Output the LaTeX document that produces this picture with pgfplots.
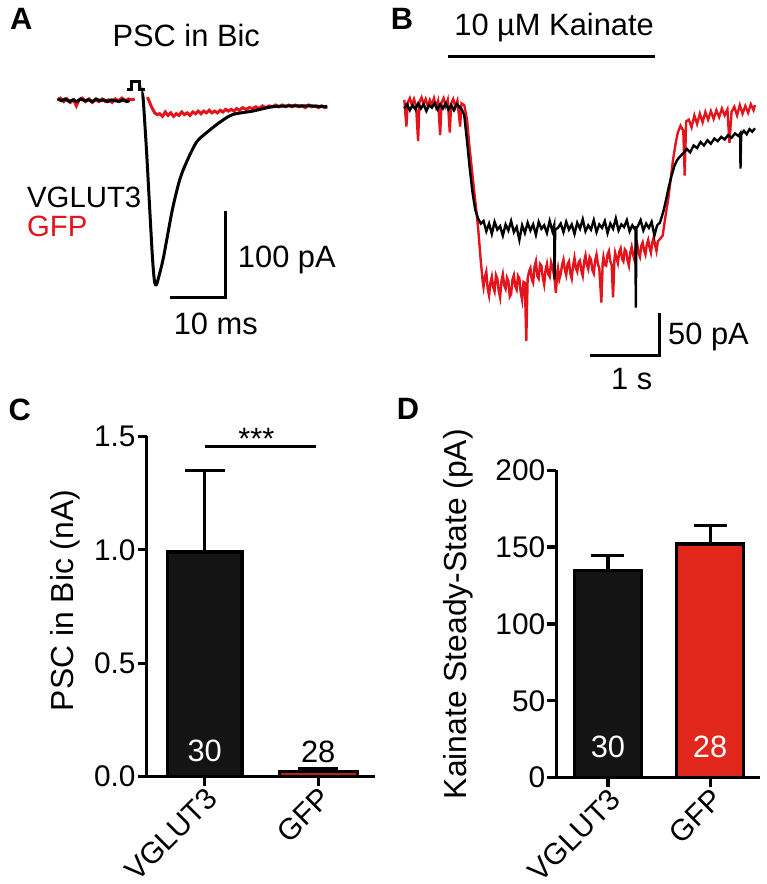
\documentclass[border=0pt]{standalone}
\usepackage{pgfplots}
\pgfplotsset{compat=1.18}
\usepackage{fontspec}
\setmainfont{Liberation Sans}
\definecolor{tracered}{HTML}{E3141C}
\definecolor{barred}{HTML}{E1261B}
\definecolor{barblack}{HTML}{141414}
\begin{document}
\begin{tikzpicture}[font=\fontsize{31}{37}\selectfont]
\path (0,0) rectangle (768bp,884bp);
% ---------- Panel A ----------
\begin{axis}[at={(44bp,557.8bp)}, anchor=south west, scale only axis,
  width=297bp, height=252.3bp, xmin=-18, xmax=36, ymin=-260, ymax=30,
  hide axis, clip=false]
\addplot[tracered, line width=3bp] coordinates {(-15.5,0) (-15.0,2) (-14.4,-2) (-13.8,1) (-13.2,-3) (-12.6,0) (-12.1,-7) (-11.6,0) (-11.0,2) (-10.4,-2) (-9.8,1) (-9.2,-3) (-8.6,0) (-8.0,-2) (-7.4,1) (-6.8,-2) (-6.2,0) (-5.6,-3) (-5.0,1) (-4.4,-1) (-3.8,2) (-3.2,-1) (-2.6,1) (-2.0,0) (-1.45,1)};
\addplot[tracered, line width=3bp] coordinates {(0.85,3) (1.2,-2) (1.58,-8) (2.18,-15) (2.6,-17) (3.09,-16) (3.6,-19) (4.1,-14) (4.6,-18) (5.1,-15) (5.6,-19) (6.1,-16) (6.6,-18) (7.1,-14) (7.6,-17) (8.1,-15) (8.6,-18) (9.1,-14) (9.6,-16) (10.1,-13) (10.6,-16) (11.1,-13) (11.6,-15) (12.1,-12) (12.6,-15) (13.1,-13) (13.6,-15) (14.1,-12) (14.6,-14) (15.1,-11) (15.6,-13) (16.1,-11) (16.6,-13) (17.1,-10) (17.6,-12) (18.2,-9) (18.8,-11) (19.4,-9) (20,-10) (20.6,-8) (21.2,-10) (21.8,-7) (22.4,-9) (23,-7) (23.6,-8) (24.2,-6) (24.8,-8) (25.4,-6) (26,-8) (26.6,-6) (27.2,-8) (27.8,-6) (28.4,-8) (29,-7) (29.6,-9) (30.2,-6) (30.8,-8) (31.4,-7) (32,-9) (32.6,-7) (33.2,-9) (33.6,-8)};
\addplot[black, line width=3bp] coordinates {(-15.5,1) (-14.8,-1) (-14.1,1) (-13.4,-2) (-12.7,0) (-12.0,-2) (-11.3,1) (-10.6,-1) (-9.9,0) (-9.2,-2) (-8.5,1) (-7.8,-1) (-7.1,0) (-6.4,-2) (-5.7,0) (-5.0,-1) (-4.3,-2) (-3.6,0) (-2.9,-2) (-2.4,-1)};
\addplot[black, line width=3bp, smooth] coordinates {(0.0,3) (0.09,0) (0.67,-57) (1.27,-126) (1.73,-178) (2.0,-201) (2.2,-211) (2.45,-213) (2.78,-207) (3.69,-184) (4.6,-153) (5.51,-123) (6.73,-92) (7.95,-72) (9.76,-49) (11.58,-38) (14,-26) (16.36,-17) (20,-13) (23.6,-8) (27.3,-7) (30.5,-7) (33.6,-8)};
% stimulus marker
\addplot[black, line width=3bp] coordinates {(-2.96,12.3) (-2.05,12.3) (-2.05,21) (-0.55,21) (-0.55,12.3) (0.49,12.3)};
% scale bar 100 pA / 10 ms
\addplot[black, line width=3.2bp] coordinates {(15.1,-128) (15.1,-228) (5.0,-228)};
\node[anchor=base west] at (axis cs:16.7,-193) {100 pA};
\node[anchor=base] at (axis cs:13.3,-270) {10 ms};
\end{axis}
% ---------- Panel B ----------
\begin{axis}[at={(391.2bp,484.6bp)}, anchor=south west, scale only axis,
  width=372.6bp, height=387bp, xmin=-0.2, xmax=5.2, ymin=-340, ymax=110,
  hide axis, clip=false]
\addplot[tracered, line width=2.4bp] coordinates {(0.00,8) (0.03,-23) (0.05,5) (0.08,10) (0.11,2) (0.14,9) (0.17,1) (0.20,-40) (0.22,6) (0.25,11) (0.28,3) (0.31,9) (0.34,1) (0.37,8) (0.40,2) (0.43,10) (0.46,0) (0.49,7) (0.52,-33) (0.54,5) (0.57,10) (0.60,1) (0.63,8) (0.66,-30) (0.68,4) (0.71,9) (0.74,0) (0.77,7) (0.81,-23) (0.83,4) (0.87,2)
 (0.91,-15) (0.95,-50) (0.99,-80) (1.03,-110) (1.07,-140) (1.11,-180) (1.14,-205)
 (1.15,-210) (1.17,-198) (1.19,-192) (1.21,-212) (1.23,-220) (1.25,-205) (1.27,-198) (1.29,-210) (1.31,-215) (1.33,-196) (1.35,-200) (1.37,-214) (1.39,-222) (1.41,-203) (1.43,-195) (1.45,-208) (1.47,-212) (1.49,-199) (1.51,-203) (1.53,-221) (1.55,-218) (1.57,-201) (1.59,-196) (1.61,-209) (1.63,-213) (1.65,-197) (1.67,-200) (1.69,-216) (1.71,-225) (1.73,-204) (1.75,-205) (1.77,-273) (1.79,-200) (1.81,-192) (1.83,-188) (1.85,-201) (1.87,-205) (1.89,-186) (1.91,-180) (1.93,-197) (1.95,-200) (1.97,-183) (1.99,-185) (2.01,-199) (2.03,-207) (2.05,-190) (2.07,-183) (2.09,-195) (2.11,-198) (2.13,-181) (2.15,-186) (2.18,-200) (2.20,-217) (2.22,-193) (2.23,-188) (2.25,-201) (2.27,-195) (2.29,-184) (2.31,-178) (2.33,-190) (2.35,-196) (2.37,-183) (2.39,-180) (2.41,-194) (2.43,-200) (2.45,-185) (2.47,-176) (2.49,-188) (2.51,-192) (2.53,-181) (2.55,-179) (2.57,-191) (2.59,-197) (2.61,-180) (2.63,-173) (2.65,-184) (2.67,-189) (2.69,-175) (2.71,-178) (2.73,-190) (2.75,-194) (2.77,-179) (2.79,-172) (2.81,-183) (2.83,-188) (2.86,-228) (2.88,-181) (2.89,-175) (2.91,-184) (2.93,-185) (2.95,-172) (2.97,-168) (2.99,-180) (3.01,-184) (3.03,-222) (3.05,-178) (3.06,-170) (3.08,-176) (3.10,-182) (3.12,-169) (3.14,-165) (3.16,-177) (3.18,-180) (3.20,-166) (3.22,-168) (3.24,-179) (3.26,-185) (3.28,-170) (3.30,-163) (3.32,-172) (3.34,-178) (3.36,-164) (3.38,-160) (3.40,-171) (3.42,-175) (3.44,-162) (3.46,-158) (3.48,-167) (3.50,-172) (3.52,-160) (3.54,-155) (3.56,-164) (3.58,-170) (3.60,-158) (3.62,-152) (3.64,-161) (3.66,-168) (3.68,-157) (3.70,-155)
 (3.75,-150) (3.79,-128) (3.83,-108) (3.87,-82) (3.90,-62) (3.94,-42) (3.97,-30) (4.01,-22) (4.05,-28) (4.07,-80) (4.09,-17) (4.13,-15) (4.17,-24) (4.21,-10) (4.25,-20) (4.29,-8) (4.33,-18) (4.37,-6) (4.41,-15) (4.45,-5) (4.49,-14) (4.53,-4) (4.57,-12) (4.61,-2) (4.65,-10) (4.69,-3) (4.72,-42) (4.75,-6) (4.79,0) (4.83,-10) (4.87,2) (4.91,-8) (4.95,1) (4.99,-7) (5.03,3) (5.07,-4) (5.09,2)};
\addplot[black, line width=2.4bp] coordinates {(0.00,-2) (0.04,3) (0.08,-4) (0.12,2) (0.16,-3) (0.20,4) (0.24,-2) (0.28,3) (0.32,-5) (0.36,2) (0.40,-1) (0.44,4) (0.48,-3) (0.52,3) (0.56,-2) (0.60,4) (0.64,-3) (0.68,2) (0.72,-4) (0.76,3) (0.80,0) (0.84,-4)
 (0.87,-10) (0.91,-40) (0.95,-72) (0.99,-100) (1.03,-120) (1.07,-130) (1.11,-136)
 (1.15,-133) (1.19,-145) (1.23,-136) (1.27,-148) (1.31,-134) (1.35,-143) (1.39,-139) (1.43,-150) (1.47,-137) (1.51,-144) (1.55,-133) (1.59,-146) (1.63,-140) (1.67,-155) (1.71,-138) (1.75,-147) (1.79,-135) (1.83,-144) (1.87,-137) (1.91,-149) (1.95,-134) (1.99,-142) (2.03,-138) (2.07,-147) (2.11,-133) (2.15,-145) (2.175,-138) (2.18,-201) (2.19,-143) (2.23,-141) (2.27,-136) (2.31,-146) (2.35,-134) (2.39,-143) (2.43,-137) (2.47,-148) (2.51,-135) (2.55,-142) (2.59,-131) (2.63,-145) (2.67,-138) (2.71,-143) (2.75,-132) (2.79,-146) (2.83,-137) (2.87,-141) (2.91,-133) (2.95,-147) (2.99,-136) (3.03,-142) (3.07,-130) (3.11,-144) (3.15,-137) (3.19,-140) (3.23,-132) (3.27,-145) (3.31,-138) (3.35,-143) (3.355,-139) (3.36,-234) (3.37,-141) (3.39,-139) (3.43,-132) (3.47,-144) (3.51,-136) (3.55,-141) (3.59,-134) (3.63,-150) (3.67,-138) (3.71,-135)
 (3.76,-122) (3.80,-108) (3.84,-93) (3.88,-80) (3.92,-69) (3.96,-62) (4.00,-58) (4.05,-54) (4.10,-49) (4.15,-53) (4.20,-45) (4.25,-48) (4.30,-41) (4.35,-45) (4.40,-39) (4.45,-43) (4.50,-37) (4.55,-40) (4.60,-35) (4.65,-38) (4.70,-33) (4.75,-36) (4.80,-31) (4.85,-34) (4.875,-31) (4.88,-72) (4.89,-32) (4.93,-28) (4.97,-32) (5.01,-26) (5.05,-29) (5.09,-25)};
% kainate application bar
\addplot[black, line width=3.2bp] coordinates {(0.64,59) (3.64,59)};
% scale bar 50 pA / 1 s
\addplot[black, line width=3.2bp] coordinates {(3.70,-240) (3.70,-290) (2.70,-290)};
\node[anchor=base west] at (axis cs:3.78,-277) {50 pA};
\node[anchor=base] at (axis cs:3.30,-329) {1 s};
\end{axis}
% ---------- Panel C ----------
\begin{axis}[at={(147bp,106bp)}, anchor=south west, scale only axis,
  width=229bp, height=341bp, xmin=-0.51, xmax=1.504, ymin=0, ymax=1.5,
  axis lines*=left, axis line style={line width=3.2bp, black},
  tick align=outside, major tick length=9bp,
  tick style={line width=3.2bp, black},
  xtick={0,1}, xticklabels={VGLUT3,GFP},
  ytick={0,0.5,1,1.5},
  /pgf/number format/fixed, /pgf/number format/fixed zerofill, /pgf/number format/precision=1,
  /pgf/number format/assume math mode=true,
  ticklabel style={font=\fontsize{30}{36}\selectfont},
  xticklabel style={rotate=45, anchor=north east, inner sep=0bp},
  yticklabel style={inner sep=2bp},
  ybar, clip=false,
  ylabel={PSC in Bic (nA)},
  ylabel style={at={(axis description cs:-0.319,0.5176)}, anchor=base, font=\fontsize{32}{38}\selectfont},
  error bars/error bar style={line width=3.2bp, black},
  error bars/error mark options={rotate=90, line width=3.2bp, black, mark size=20bp}]
\addplot[fill=barblack, draw=black, line width=3.2bp, bar width=75bp, bar shift=0pt,
  error bars/.cd, y dir=plus, y explicit] coordinates {(0,0.99) +- (0,0.36)};
\addplot[fill=barred!85!black, draw=black, line width=3.2bp, bar width=78bp, bar shift=0pt,
  error bars/.cd, y dir=plus, y explicit] coordinates {(1,0.022) +- (0,0.014)};
\node[white] at (axis cs:0,0.112) {30};
\node[black] at (axis cs:1,0.11) {28};
\draw[line width=3.2bp] (axis cs:0.005,1.455) -- (axis cs:0.985,1.455);
\node[anchor=base] at (axis cs:0.455,1.443) {***};
\end{axis}
% ---------- Panel D ----------
\begin{axis}[at={(557.3bp,105bp)}, anchor=south west, scale only axis,
  width=204.4bp, height=308bp, xmin=-0.505, xmax=1.493, ymin=0, ymax=200,
  axis lines*=left, axis line style={line width=3.2bp, black},
  tick align=outside, major tick length=9bp,
  tick style={line width=3.2bp, black},
  xtick={0,1}, xticklabels={VGLUT3,GFP},
  ytick={0,50,100,150,200},
  /pgf/number format/assume math mode=true,
  ticklabel style={font=\fontsize{30}{36}\selectfont},
  xticklabel style={rotate=45, anchor=north east, inner sep=0bp},
  yticklabel style={inner sep=2bp},
  ybar, clip=false,
  ylabel={Kainate Steady-State (pA)},
  ylabel style={at={(axis description cs:-0.44,0.532)}, anchor=base, font=\fontsize{32}{38}\selectfont},
  error bars/error bar style={line width=3.2bp, black},
  error bars/error mark options={rotate=90, line width=3.2bp, black, mark size=16.5bp}]
\addplot[fill=barblack, draw=black, line width=3.2bp, bar width=67bp, bar shift=0pt,
  error bars/.cd, y dir=plus, y explicit] coordinates {(0,135) +- (0,9.5)};
\addplot[fill=barred, draw=black, line width=3.2bp, bar width=67bp, bar shift=0pt,
  error bars/.cd, y dir=plus, y explicit] coordinates {(1,152) +- (0,12)};
\node[white] at (axis cs:0,20) {30};
\node[white] at (axis cs:1,20) {28};
\end{axis}
% ---------- Annotations ----------
\node[anchor=base west, font=\fontsize{31}{37}\selectfont\bfseries] at (6.7bp,854bp) {A};
\node[anchor=base west, font=\fontsize{31}{37}\selectfont\bfseries] at (388bp,854bp) {B};
\node[anchor=base west, font=\fontsize{31}{37}\selectfont\bfseries] at (5bp,463.3bp) {C};
\node[anchor=base west, font=\fontsize{31}{37}\selectfont\bfseries] at (394bp,464bp) {D};
\node[anchor=base] at (186.5bp,837.3bp) {PSC in Bic};
\node[anchor=base] at (555bp,848bp) {10 µM Kainate};
\node[anchor=base west, inner sep=0pt, font=\fontsize{29.5}{35}\selectfont] at (27bp,675.7bp) {VGLUT3};
\node[anchor=base west, inner sep=0pt, text=tracered, font=\fontsize{29.5}{35}\selectfont] at (27bp,647.3bp) {GFP};
\end{tikzpicture}
\end{document}
